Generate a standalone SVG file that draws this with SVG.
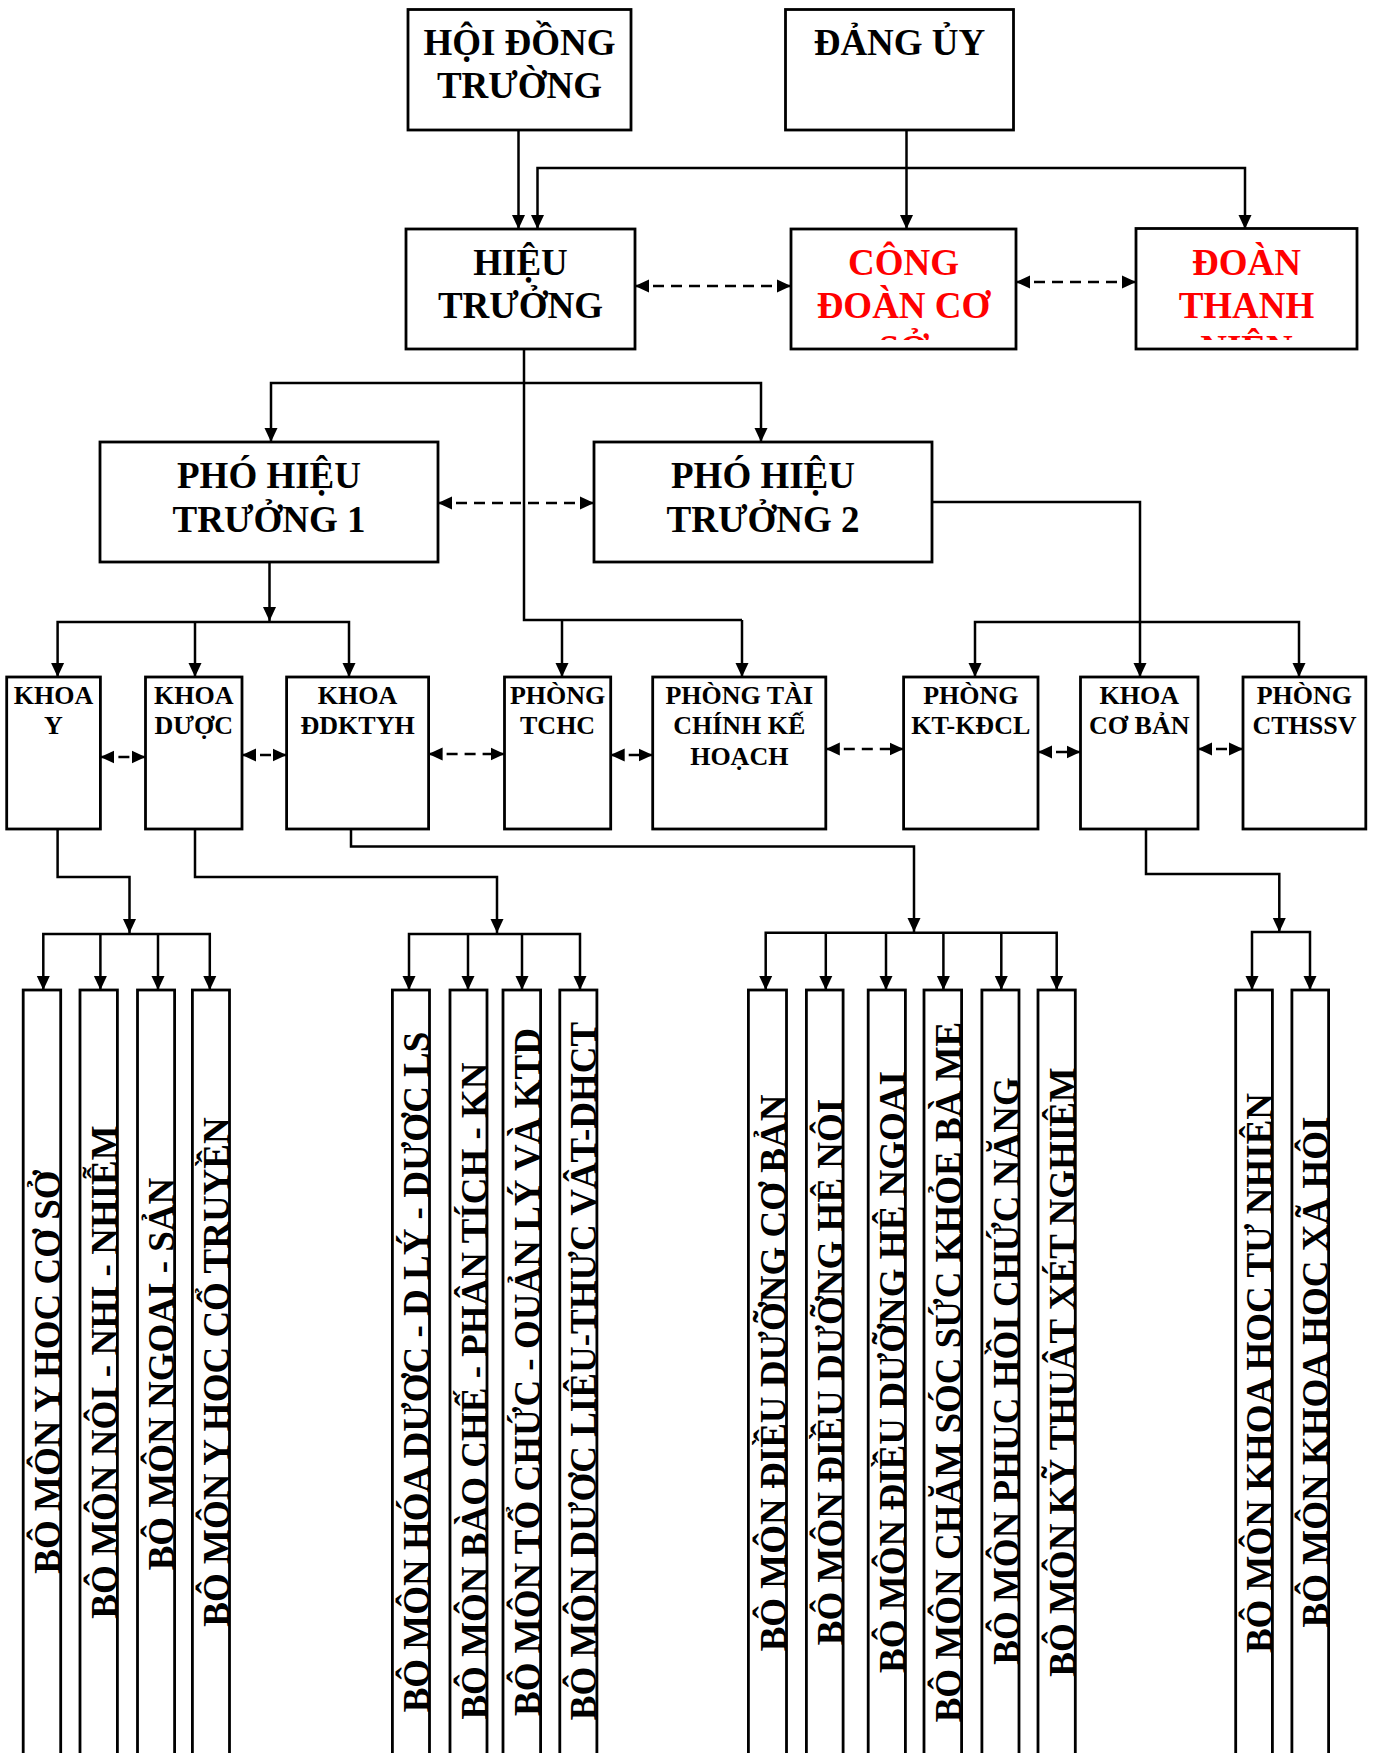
<svg xmlns="http://www.w3.org/2000/svg" width="1378" height="1753" viewBox="0 0 1378 1753">
<style>
.box{fill:#fff;stroke:#000;stroke-width:2.8}
.t{font-family:"Liberation Serif","Times New Roman",serif;font-weight:bold;text-anchor:middle;fill:#000}
.big{font-size:37px}
.sm{font-size:26px}
.red{fill:#ff0000}
.ln{fill:none;stroke:#000;stroke-width:2.5;stroke-linejoin:miter}
.arr{marker-end:url(#ah)}
.arr2{marker-start:url(#ah);marker-end:url(#ah)}
.dash{stroke-dasharray:11 7;marker-start:url(#ah);marker-end:url(#ah)}
.vt{font-family:"Liberation Serif","Times New Roman",serif;font-weight:bold;font-size:37px;text-anchor:middle;fill:#000}
</style>
<defs>
<marker id="ah" markerUnits="userSpaceOnUse" markerWidth="14" markerHeight="14" viewBox="0 0 14 14" refX="14" refY="7" orient="auto-start-reverse">
<path d="M0,0.5 L14,7 L0,13.5 Z" fill="#000" stroke="none"/>
</marker>
<clipPath id="cpCD"><rect x="791" y="229" width="225" height="111"/></clipPath>
<clipPath id="cpDT"><rect x="1136" y="229" width="221" height="111"/></clipPath>
<clipPath id="cpBars">
<rect x="23.2" y="990" width="37.5" height="780"/>
<rect x="80" y="990" width="37.4" height="780"/>
<rect x="137.5" y="990" width="37.1" height="780"/>
<rect x="192.4" y="990" width="37.1" height="780"/>
<rect x="392.4" y="990" width="37.1" height="780"/>
<rect x="450" y="990" width="37" height="780"/>
<rect x="503" y="990" width="37.6" height="780"/>
<rect x="559.8" y="990" width="37.1" height="780"/>
<rect x="748.4" y="990" width="38.1" height="780"/>
<rect x="806.4" y="990" width="36.7" height="780"/>
<rect x="868.2" y="990" width="37.2" height="780"/>
<rect x="924" y="990" width="37.6" height="780"/>
<rect x="981.9" y="990" width="37.1" height="780"/>
<rect x="1038" y="990" width="37.3" height="780"/>
<rect x="1235.7" y="990" width="36.7" height="780"/>
<rect x="1291.9" y="990" width="36.7" height="780"/>
</clipPath>
</defs>
<rect x="0" y="0" width="1378" height="1753" fill="#fff"/>

<g id="connectors">
<path class="ln arr" d="M518.5,130 V229"/>
<path class="ln arr" d="M906.5,130 V229"/>
<path class="ln arr2" d="M537.5,229 V168 H1245 V229"/>
<path class="ln dash" d="M635,286 H791"/>
<path class="ln dash" d="M1016,282 H1136"/>
<path class="ln" d="M524,349 V620 H742"/>
<path class="ln arr" d="M562,620 V677"/>
<path class="ln arr2" d="M271,442 V383 H761 V442"/>
<path class="ln arr" d="M742,620 V677"/>
<path class="ln dash" d="M438,503 H594"/>
<path class="ln arr" d="M269.5,562 V621"/>
<path class="ln arr2" d="M57.6,677 V622 H349 V677"/>
<path class="ln arr" d="M195,622 V677"/>
<path class="ln arr" d="M932,502 H1140 V677"/>
<path class="ln arr2" d="M975,677 V622 H1299 V677"/>
<path class="ln dash" d="M100.4,757 H145.5"/>
<path class="ln dash" d="M242,755 H286.6"/>
<path class="ln dash" d="M428.6,754 H504.5"/>
<path class="ln dash" d="M610.7,755 H652.7"/>
<path class="ln dash" d="M825.8,749 H903.6"/>
<path class="ln dash" d="M1038,752 H1080.5"/>
<path class="ln dash" d="M1198,749 H1243"/>
<path class="ln arr" d="M57.6,829 V877 H129.5 V933"/>
<path class="ln arr" d="M195,829 V877 H497 V933"/>
<path class="ln arr" d="M351,829 V846.5 H914 V932"/>
<path class="ln arr" d="M1146,829 V874 H1279.3 V932"/>
<path class="ln arr2" d="M43.3,990 V934 H209.8 V990"/>
<path class="ln arr" d="M100.4,934 V990"/>
<path class="ln arr" d="M158,934 V990"/>
<path class="ln arr2" d="M409,990 V934 H580 V990"/>
<path class="ln arr" d="M468,934 V990"/>
<path class="ln arr" d="M522,934 V990"/>
<path class="ln arr2" d="M765.7,990 V932.7 H1056.7 V990"/>
<path class="ln arr" d="M825.8,932.7 V990"/>
<path class="ln arr" d="M886,932.7 V990"/>
<path class="ln arr" d="M943.4,932.7 V990"/>
<path class="ln arr" d="M1001.3,932.7 V990"/>
<path class="ln arr2" d="M1252,990 V932 H1310 V990"/>
</g>

<g id="hoi-dong-truong">
<rect class="box" x="408" y="9.5" width="223" height="120.5"/>
<text class="t big" x="519.5" y="55">HỘI ĐỒNG</text>
<text class="t big" x="519.5" y="98">TRƯỜNG</text>
</g>
<g id="dang-uy">
<rect class="box" x="785.5" y="9.5" width="228" height="120.5"/>
<text class="t big" x="899.5" y="55">ĐẢNG ỦY</text>
</g>
<g id="hieu-truong">
<rect class="box" x="406" y="229" width="229" height="120"/>
<text class="t big" x="520.5" y="275">HIỆU</text>
<text class="t big" x="520.5" y="318">TRƯỞNG</text>
</g>
<g id="cong-doan">
<rect class="box" x="791" y="229" width="225" height="120"/>
<g clip-path="url(#cpCD)">
<text class="t big red" x="903.5" y="275">CÔNG</text>
<text class="t big red" x="903.5" y="318">ĐOÀN CƠ</text>
<text class="t big red" x="903.5" y="361">SỞ</text>
</g>
</g>
<g id="doan-thanh-nien">
<rect class="box" x="1136" y="228.5" width="221" height="120.5"/>
<g clip-path="url(#cpDT)">
<text class="t big red" x="1246.5" y="275">ĐOÀN</text>
<text class="t big red" x="1246.5" y="317.5">THANH</text>
<text class="t big red" x="1246.5" y="360.5">NIÊN</text>
</g>
</g>
<g id="pho-hieu-truong-1">
<rect class="box" x="100" y="442" width="338" height="120"/>
<text class="t big" x="269" y="488">PHÓ HIỆU</text>
<text class="t big" x="269" y="531.5">TRƯỞNG 1</text>
</g>
<g id="pho-hieu-truong-2">
<rect class="box" x="594" y="442" width="338" height="120"/>
<text class="t big" x="763" y="488">PHÓ HIỆU</text>
<text class="t big" x="763" y="531.5">TRƯỞNG 2</text>
</g>

<g id="khoa-y">
<rect class="box" x="6.7" y="677" width="93.7" height="152"/>
<text class="t sm" x="53.5" y="704">KHOA</text>
<text class="t sm" x="53.5" y="734">Y</text>
</g>
<g id="khoa-duoc">
<rect class="box" x="145.5" y="677" width="96.5" height="152"/>
<text class="t sm" x="193.8" y="704">KHOA</text>
<text class="t sm" x="193.8" y="734">DƯỢC</text>
</g>
<g id="khoa-ddktyh">
<rect class="box" x="286.6" y="677" width="142" height="152"/>
<text class="t sm" x="357.6" y="704">KHOA</text>
<text class="t sm" x="357.6" y="734">ĐDKTYH</text>
</g>
<g id="phong-tchc">
<rect class="box" x="504.5" y="677" width="106.2" height="152"/>
<text class="t sm" x="557.6" y="704">PHÒNG</text>
<text class="t sm" x="557.6" y="734">TCHC</text>
</g>
<g id="phong-tckh">
<rect class="box" x="652.7" y="677" width="173.1" height="152"/>
<text class="t sm" x="739.3" y="704">PHÒNG TÀI</text>
<text class="t sm" x="739.3" y="734">CHÍNH KẾ</text>
<text class="t sm" x="739.3" y="765">HOẠCH</text>
</g>
<g id="phong-kt-kdcl">
<rect class="box" x="903.6" y="677" width="134.4" height="152"/>
<text class="t sm" x="970.8" y="704">PHÒNG</text>
<text class="t sm" x="970.8" y="734">KT-KĐCL</text>
</g>
<g id="khoa-co-ban">
<rect class="box" x="1080.5" y="677" width="117.5" height="152"/>
<text class="t sm" x="1139.3" y="704">KHOA</text>
<text class="t sm" x="1139.3" y="734">CƠ BẢN</text>
</g>
<g id="phong-cthssv">
<rect class="box" x="1243" y="677" width="122.8" height="152"/>
<text class="t sm" x="1304.4" y="704">PHÒNG</text>
<text class="t sm" x="1304.4" y="734">CTHSSV</text>
</g>

<g id="bo-mon-bars">
<rect class="box" x="23.2" y="990" width="37.5" height="780"/>
<rect class="box" x="80" y="990" width="37.4" height="780"/>
<rect class="box" x="137.5" y="990" width="37.1" height="780"/>
<rect class="box" x="192.4" y="990" width="37.1" height="780"/>
<rect class="box" x="392.4" y="990" width="37.1" height="780"/>
<rect class="box" x="450" y="990" width="37" height="780"/>
<rect class="box" x="503" y="990" width="37.6" height="780"/>
<rect class="box" x="559.8" y="990" width="37.1" height="780"/>
<rect class="box" x="748.4" y="990" width="38.1" height="780"/>
<rect class="box" x="806.4" y="990" width="36.7" height="780"/>
<rect class="box" x="868.2" y="990" width="37.2" height="780"/>
<rect class="box" x="924" y="990" width="37.6" height="780"/>
<rect class="box" x="981.9" y="990" width="37.1" height="780"/>
<rect class="box" x="1038" y="990" width="37.3" height="780"/>
<rect class="box" x="1235.7" y="990" width="36.7" height="780"/>
<rect class="box" x="1291.9" y="990" width="36.7" height="780"/>
</g>
<g id="bo-mon-labels" clip-path="url(#cpBars)">
<text class="vt" transform="translate(60.2,1372) rotate(-90)">BỘ MÔN Y HỌC CƠ SỞ</text>
<text class="vt" transform="translate(116.9,1372) rotate(-90)">BỘ MÔN NỘI - NHI - NHIỄM</text>
<text class="vt" transform="translate(174.1,1374) rotate(-90)">BỘ MÔN NGOẠI - SẢN</text>
<text class="vt" transform="translate(229,1372) rotate(-90)">BỘ MÔN Y HỌC CỔ TRUYỀN</text>
<text class="vt" transform="translate(429,1372) rotate(-90)">BỘ MÔN HÓA DƯỢC - D LÝ - DƯỢC LS</text>
<text class="vt" transform="translate(486.5,1391) rotate(-90)">BỘ MÔN BÀO CHẾ - PHÂN TÍCH - KN</text>
<text class="vt" transform="translate(540.1,1372) rotate(-90)">BỘ MÔN TỔ CHỨC - QUẢN LÝ VÀ KTD</text>
<text class="vt" transform="translate(596.4,1371) rotate(-90)">BỘ MÔN DƯỢC LIỆU-THỰC VẬT-DHCT</text>
<text class="vt" transform="translate(786,1373) rotate(-90)">BỘ MÔN ĐIỀU DƯỠNG CƠ BẢN</text>
<text class="vt" transform="translate(842.6,1372) rotate(-90)">BỘ MÔN ĐIỀU DƯỠNG HỆ NỘI</text>
<text class="vt" transform="translate(904.9,1372) rotate(-90)">BỘ MÔN ĐIỀU DƯỠNG HỆ NGOẠI</text>
<text class="vt" transform="translate(961.1,1372) rotate(-90)">BỘ MÔN CHĂM SÓC SỨC KHỎE BÀ MẸ</text>
<text class="vt" transform="translate(1018.5,1371) rotate(-90)">BỘ MÔN PHỤC HỒI CHỨC NĂNG</text>
<text class="vt" transform="translate(1074.8,1372) rotate(-90)">BỘ MÔN KỸ THUẬT XÉT NGHIỆM</text>
<text class="vt" transform="translate(1271.9,1373) rotate(-90)">BỘ MÔN KHOA HỌC TỰ NHIÊN</text>
<text class="vt" transform="translate(1328.1,1372) rotate(-90)">BỘ MÔN KHOA HỌC XÃ HỘI</text>
</g>
</svg>
